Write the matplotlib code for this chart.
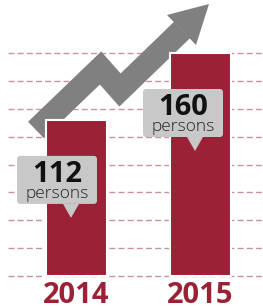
import numpy as np
import matplotlib
matplotlib.use("Agg")
import matplotlib.pyplot as plt
from matplotlib.patches import Polygon, FancyBboxPatch
from matplotlib.lines import Line2D

# ---- data ----
years = ["2014", "2015"]
persons = [112, 160]
unit_label = "persons"
grid_values = [0, 20, 40, 60, 80, 100, 120, 140, 160]

# ---- style ----
BAR = "#9b2136"
GRAY = "#808080"
BOX = "#c8c8c8"
GRID = "#c8939f"

W, H = 263, 307
fig = plt.figure(figsize=(W / 100, H / 100), dpi=100)
ax = fig.add_axes([0, 0, 1, 1])
ax.set_axis_off()

# axes limits chosen so that 0 sits at pixel row 276 and 160 at row 53
px_per_unit_y = (276 - 53) / 160.0
ylim = (-(H - 276) / px_per_unit_y, 276 / px_per_unit_y)
px_per_unit_x = 124.0
xlim = (-76.5 / px_per_unit_x, 1 + (W - 200.5) / px_per_unit_x)
ax.set_xlim(*xlim)
ax.set_ylim(*ylim)


def px(x, y):
    """pixel (x from left, y from top) -> data coords"""
    xd = xlim[0] + x / W * (xlim[1] - xlim[0])
    yd = ylim[1] - y / H * (ylim[1] - ylim[0])
    return xd, yd


def dx(p):
    return p / px_per_unit_x


def dy(p):
    return p / px_per_unit_y


# gridlines
gx0 = px(8, 0)[0]
for g in grid_values:
    ax.plot([gx0, xlim[1]], [g, g], color=GRID, lw=1.0,
            linestyle=(0, (4.3, 2.3)), zorder=1)

# zigzag arrow (decoration)
center = np.array([px(36, 130), px(100.5, 68), px(120, 90), px(182, 30)])
ax.add_line(Line2D(center[:, 0], center[:, 1], color=GRAY, lw=16.5,
                   solid_joinstyle="miter", solid_capstyle="butt", zorder=2))
head = [px(167, 15), px(209, 4), px(196, 45)]
ax.add_patch(Polygon(head, closed=True, facecolor=GRAY, edgecolor="none", zorder=2))

# bars
xpos = np.arange(len(years))
ax.bar(xpos, persons, width=61 / px_per_unit_x, color=BAR,
       edgecolor="white", linewidth=1.5, zorder=3)

# year labels
for x, yr in zip(xpos, years):
    ax.text(x, -dy(27), yr, ha="center", va="baseline", color=BAR,
            fontsize=21, fontweight="bold", family="Open Sans", zorder=5)

# callouts
offsets = [-19.5, -17.5]
for x, v, off in zip(xpos, persons, offsets):
    tip_y = v - dy(98)
    cx = x + dx(off)
    bw, bh = dx(80), dy(48)
    bottom = tip_y + dy(14)
    box = FancyBboxPatch((cx - bw / 2, bottom), bw, bh,
                         boxstyle="round,pad=0,rounding_size=0.025",
                         mutation_aspect=px_per_unit_x / px_per_unit_y,
                         facecolor=BOX, edgecolor="none", zorder=4)
    ax.add_patch(box)
    tip_x = x + dx(-5.5)
    ax.add_patch(Polygon([(tip_x - dx(8), bottom + 0.01), (tip_x + dx(8), bottom + 0.01),
                          (tip_x, tip_y)], closed=True, facecolor=BOX,
                         edgecolor="none", zorder=4))
    top = bottom + bh
    ax.text(cx, top - dy(26), str(v), ha="center", va="baseline", color="#111111",
            fontsize=21, fontweight="bold", family="Open Sans", zorder=5)
    ax.text(cx, top - dy(42), unit_label, ha="center", va="baseline", color="#222222",
            fontsize=12.5, fontweight="light", family="Open Sans", zorder=5)

fig.savefig("out.png", dpi=100)
